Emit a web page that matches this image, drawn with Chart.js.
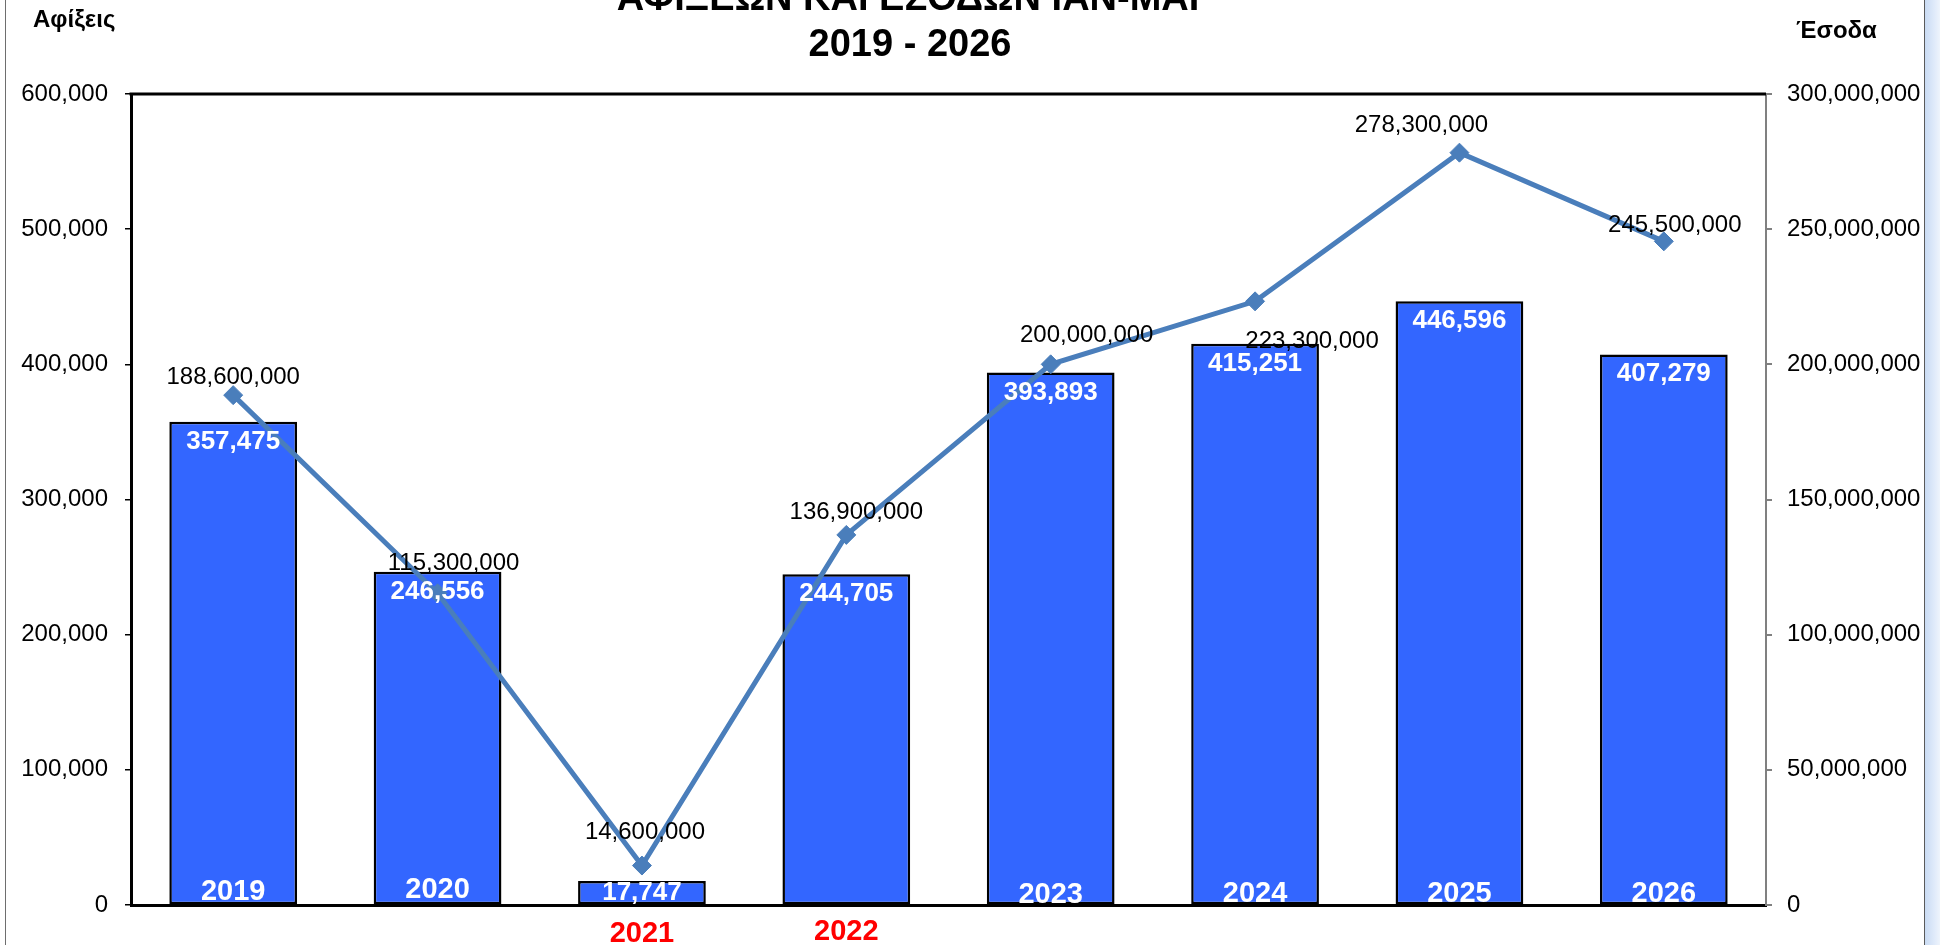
<!DOCTYPE html>
<html>
<head>
<meta charset="utf-8">
<script src="https://cdn.jsdelivr.net/npm/chart.js@4.4.1/dist/chart.umd.min.js"></script>
<style>
  html, body { margin: 0; padding: 0; background: #fff; overflow: hidden; }
  #wrap { position: relative; width: 1940px; height: 945px; }
  canvas { position: absolute; left: 0; top: 0; }
  #lb { position: absolute; left: 5px; top: 0; width: 1px; height: 945px; background: #6e6e6e; }
  #rb { position: absolute; left: 1924px; top: 0; width: 1px; height: 945px; background: #5a5a5a; }
  #rg { position: absolute; left: 1925px; top: 0; width: 15px; height: 945px;
        background: linear-gradient(to right, #c9dbf3, #dfeafa 60%, #eef4fc); }
</style>
</head>
<body>
<div id="wrap">
  <canvas id="c" width="1940" height="945"></canvas>
  <div id="lb"></div><div id="rb"></div><div id="rg"></div>
</div>
<script>
// ---- data ----
const categories = ['2019', '2020', '2021', '2022', '2023', '2024', '2025', '2026'];
const arrivals = [357475, 246556, 17747, 244705, 393893, 415251, 446596, 407279];
const revenue = [188600000, 115300000, 14600000, 136900000, 200000000, 223300000, 278300000, 245500000];
const titleLines = ['ΑΦΙΞΕΩΝ ΚΑΙ ΕΣΟΔΩΝ ΙΑΝ-ΜΑΙ', '2019 - 2026'];
const leftAxisTitle = 'Αφίξεις';
const rightAxisTitle = 'Έσοδα';
const leftTicks = { min: 0, max: 600000, step: 100000 };
const rightTicks = { min: 0, max: 300000000, step: 50000000 };

// ---- label placement (not data) ----
const lineLabelDx = [0, 16, 3, 10, 36, 57, -38, 11];
const lineLabelDy = [-18, -30, -33, -23, -29, 40, -27, -16];
const catLabelOutside = [false, false, true, true, false, false, false, false];
const catLabelDy = [-5, -7, 37, 35, -2, -3, -3, -3];

const FONT = '"Liberation Sans", Arial, sans-serif';
const fmt = v => Number(v).toLocaleString('en-US');

const labelPlugin = {
  id: 'labels',
  afterDatasetsDraw(chart) {
    const ctx = chart.ctx;
    const ca = chart.chartArea;
    const barMeta = chart.getDatasetMeta(0);
    const lineMeta = chart.getDatasetMeta(1);
    ctx.save();
    // top frame line
    ctx.strokeStyle = '#000';
    ctx.lineWidth = 3;
    ctx.beginPath();
    ctx.moveTo(ca.left - 1.5, ca.top);
    ctx.lineTo(ca.right, ca.top);
    ctx.stroke();
    // bar value labels
    ctx.fillStyle = '#fff';
    ctx.font = 'bold 26px ' + FONT;
    ctx.textAlign = 'center';
    ctx.textBaseline = 'alphabetic';
    barMeta.data.forEach((el, i) => {
      const y = Math.min(el.y + 27, ca.bottom - 5);
      ctx.fillText(fmt(arrivals[i]), el.x, y);
    });
    // category labels
    ctx.font = 'bold 29px ' + FONT;
    barMeta.data.forEach((el, i) => {
      ctx.fillStyle = catLabelOutside[i] ? '#ff0000' : '#fff';
      ctx.fillText(categories[i], el.x, ca.bottom + catLabelDy[i]);
    });
    // line value labels
    ctx.fillStyle = '#000';
    ctx.font = '24px ' + FONT;
    ctx.textBaseline = 'middle';
    lineMeta.data.forEach((el, i) => {
      ctx.fillText(fmt(revenue[i]), el.x + lineLabelDx[i], el.y + lineLabelDy[i]);
    });
    // titles
    ctx.font = 'bold 38px ' + FONT;
    ctx.textBaseline = 'alphabetic';
    ctx.fillText(titleLines[0], 908, 10);
    ctx.fillText(titleLines[1], 910, 56);
    ctx.font = 'bold 24px ' + FONT;
    ctx.textAlign = 'left';
    ctx.fillText(leftAxisTitle, 33, 27);
    ctx.fillText(rightAxisTitle, 1796, 38);
    ctx.restore();
  }
};

new Chart(document.getElementById('c'), {
  data: {
    labels: categories,
    datasets: [
      {
        type: 'bar',
        label: leftAxisTitle,
        data: arrivals,
        yAxisID: 'y',
        backgroundColor: '#3366FF',
        borderColor: '#000',
        borderWidth: 2.5,
        borderSkipped: false,
        barPercentage: 0.625,
        categoryPercentage: 1,
        order: 1
      },
      {
        type: 'line',
        label: rightAxisTitle,
        data: revenue,
        yAxisID: 'y1',
        borderColor: '#4A7EBB',
        borderWidth: 5,
        pointStyle: 'rectRot',
        pointRadius: 9.5,
        pointBackgroundColor: '#4A7EBB',
        pointBorderColor: '#4A7EBB',
        pointBorderWidth: 1,
        tension: 0,
        order: 0
      }
    ]
  },
  options: {
    responsive: false,
    animation: false,
    devicePixelRatio: 1,
    layout: { padding: { top: 94, bottom: 40, left: 0, right: 0 } },
    plugins: { legend: { display: false }, title: { display: false }, tooltip: { enabled: false } },
    scales: {
      x: {
        type: 'category',
        offset: true,
        grid: { display: false, drawTicks: false },
        border: { display: true, color: '#000', width: 3 },
        ticks: { display: false },
        afterFit: s => { s.height = 0; }
      },
      y: {
        position: 'left',
        min: leftTicks.min, max: leftTicks.max,
        ticks: { stepSize: leftTicks.step, color: '#000', padding: 17, font: { family: FONT, size: 24 }, callback: v => fmt(v) },
        grid: { drawOnChartArea: false, drawTicks: true, tickLength: 6, color: '#000', lineWidth: 1.5 },
        border: { display: true, color: '#000', width: 3 },
        afterFit: s => { s.width = 131; }
      },
      y1: {
        position: 'right',
        min: rightTicks.min, max: rightTicks.max,
        ticks: { stepSize: rightTicks.step, color: '#000', padding: 15, font: { family: FONT, size: 24 }, callback: v => fmt(v) },
        grid: { drawOnChartArea: false, drawTicks: true, tickLength: 6, color: '#808080', lineWidth: 2 },
        border: { display: true, color: '#808080', width: 2 },
        afterFit: s => { s.width = 174; }
      }
    }
  },
  plugins: [labelPlugin]
});
</script>
</body>
</html>
